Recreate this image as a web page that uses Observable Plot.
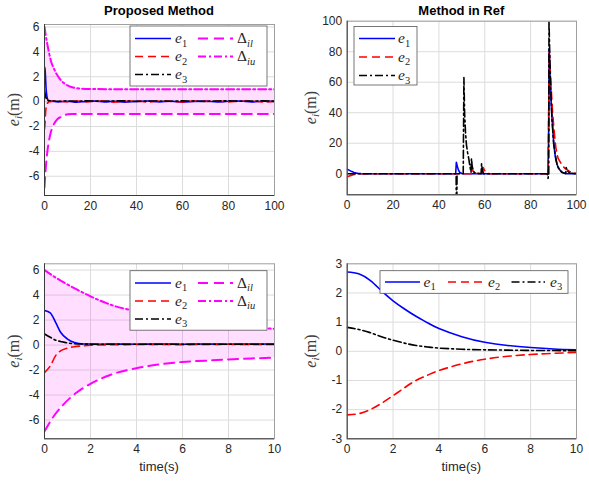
<!DOCTYPE html>
<html><head><meta charset="utf-8">
<script src="https://cdn.jsdelivr.net/npm/d3@7"></script>
<script src="https://cdn.jsdelivr.net/npm/@observablehq/plot@0.6"></script>
<style>
html,body{margin:0;padding:0;background:#fff;}
#root{position:relative;width:589px;height:482px;overflow:hidden;background:#fff;}
#root svg{position:absolute;}
</style></head><body><div id="root"></div>
<script>
// ---------- data ----------
// prescribed performance bounds (shared time grid)
const boundT  = [0,0.4,0.8,1.4,2,2.7,3,4,5,6,7,8,9,10,12,15,20,30,40,50,60,70,80,90,100];
const deltaIu = [6,5.5,5.05,4.45,3.9,3.35,3.15,2.7,2.3,2.0,1.75,1.55,1.42,1.3,1.15,1.06,1.02,1,1,1,1,1,1,1,1];
const deltaIl = [-6.9,-5.7,-4.8,-3.8,-3.1,-2.5,-2.3,-1.85,-1.55,-1.35,-1.25,-1.15,-1.07,-1.02,-1.0,-1,-1,-1,-1,-1,-1,-1,-1,-1,-1];

// proposed method, first 10 s
const blT  = [0,0.25,0.5,0.7,1,1.3,1.7,2,2.5,3,4,5,6,7,8,9,10];
const blE1 = [2.77,2.58,1.75,1.02,0.48,0.21,0.09,0.08,0.07,0.08,0.07,0.08,0.07,0.08,0.07,0.08,0.08];
const blE2 = [-2.2,-1.67,-0.8,-0.46,-0.24,-0.13,-0.06,-0.02,0.01,0.03,0.04,0.05,0.03,0.05,0.06,0.04,0.04];
const blE3 = [0.89,0.62,0.38,0.29,0.17,0.11,0.08,0.07,0.06,0.06,0.06,0.06,0.06,0.06,0.06,0.06,0.06];

// proposed method, long horizon (after 2 s)
const longT  = [3,6,10,14,18,22,26,30,35,40,45,50,55,60,65,70,75,80,85,90,95,100];
const longE1 = [0.05,-0.02,0.03,-0.05,0.02,0.04,-0.03,0.03,-0.04,0.02,0.05,-0.02,0.03,-0.04,0.02,0.04,-0.03,0.03,0.05,-0.02,0.03,0.02];
const longE2 = [0.02,0.04,-0.03,0.05,-0.02,0.03,0.05,-0.04,0.02,0.04,-0.03,0.05,0.02,-0.03,0.04,0.02,0.05,-0.02,0.03,0.04,-0.03,0.02];
const longE3 = [0.06,0.03,0.05,0.02,0.06,0.04,0.03,0.05,0.06,0.02,0.04,0.05,0.03,0.06,0.04,0.02,0.05,0.06,0.03,0.04,0.06,0.03];

// method in ref, 0-100 s
const refE1T = [0,1,2,3,4,5,6,8,47.3,47.6,48,48.5,49,50,51,87.5,87.8,88.1,88.5,89,89.5,90,90.5,91,92,93,94,95,96,100];
const refE1V = [3,2.2,1.4,0.8,0.4,0.15,0.05,0,0,7.5,5,2.5,1,0.2,0,0,20,82,62,45,33,22,14,9,4,2,0.8,0.3,0.1,0];
const refE2T = [0,1,2,3,4,5,6,54,54.3,55,56,59,59.3,60,61,62,87.5,87.8,88.1,88.6,89,89.5,90,90.5,91,91.5,92,93,94,95,96,97,98,100];
const refE2V = [-2,-1.4,-0.9,-0.5,-0.2,-0.05,0,0,3,1.5,0.3,0,4,2,0.3,0,0,30,80,65,55,42,32,24,17,13,10,7.5,5,3.5,2.5,1.5,0.8,0.2];
const refE3T = [0,47.5,47.6,47.8,47.9,50.6,50.9,51.2,51.6,52,52.5,53,53.5,54,54.2,54.5,55,55.5,58.4,58.6,59,59.5,87.3,87.6,87.9,88,88.4,88.8,89.3,90,90.8,91.5,92.5,93.5,95.3,95.5,96,97,100];
const refE3V = [0,0,-20,-20,0,0,63,40,27,19,14,10,5,1,10,5,2,0.5,0,6.5,2,0,0,-3,0,100,75,55,36,20,12,6,3,1,0,4,2,0.5,0];

// method in ref, first 10 s
const brT  = [0,0.5,1,1.5,2,2.5,3,3.5,4,5,6,7,8,9,10];
const brE1 = [2.72,2.66,2.43,2.07,1.73,1.45,1.2,0.98,0.78,0.5,0.31,0.2,0.13,0.08,0.05];
const brE2 = [-2.18,-2.14,-2.0,-1.78,-1.52,-1.25,-1.0,-0.82,-0.66,-0.43,-0.27,-0.17,-0.11,-0.07,-0.04];
const brE3 = [0.82,0.75,0.64,0.5,0.38,0.28,0.2,0.15,0.11,0.07,0.05,0.04,0.03,0.025,0.02];

// ticks and text
const ticks100 = [0,20,40,60,80,100];
const ticks10  = [0,2,4,6,8,10];
const ticksPM6 = [-6,-4,-2,0,2,4,6];
const ticksRef = [0,20,40,60,80,100];
const ticksPM3 = [-3,-2,-1,0,1,2,3];
const titles = ["Proposed Method", "Method in Ref"];
const xLabel = "time(s)";

// ---------- helpers ----------
const zip = (t, v) => t.map((d, i) => ({t: d, v: v[i]}));
const bounds = boundT.map((d, i) => ({t: d, lo: deltaIl[i], hi: deltaIu[i]}));
const early = (arr) => arr.slice(0, 8);
const tlT = early(blT).concat(longT);

const C = {
  e1: {stroke: "#0000ff", strokeWidth: 1.6},
  e2: {stroke: "#ff0000", strokeWidth: 1.6, strokeDasharray: "8,5"},
  e3: {stroke: "#000000", strokeWidth: 1.6, strokeDasharray: "8,3,2,3"},
  il: {stroke: "#ff00ff", strokeWidth: 2, strokeDasharray: "10,6"},
  iu: {stroke: "#ff00ff", strokeWidth: 2, strokeDasharray: "8,3,2,3"}
};

const root = document.getElementById("root");

function panel({left, top, width, height, m, xDomain, xTicks, yDomain, yTicks, marks}) {
  const svg = Plot.plot({
    width, height,
    marginTop: m[0], marginRight: m[1], marginBottom: m[2], marginLeft: m[3],
    style: {fontFamily: "'Liberation Sans', Arial, sans-serif", fontSize: "12px", color: "#262626", background: "transparent", overflow: "visible"},
    x: {domain: xDomain, ticks: xTicks, tickSize: 0, tickPadding: 6, label: null, tickFormat: d => String(d)},
    y: {domain: yDomain, ticks: yTicks, tickSize: 0, tickPadding: 5, label: null, tickFormat: d => String(d)},
    marks: [
      Plot.gridX(xTicks, {stroke: "#dcdcdc", strokeOpacity: 1}),
      Plot.gridY(yTicks, {stroke: "#dcdcdc", strokeOpacity: 1}),
      ...marks,
      Plot.frame({stroke: "#a0a0a0"}),
      Plot.ruleX([xDomain[0]], {stroke: "#3a3a3a"}),
      Plot.ruleY([yDomain[0]], {stroke: "#3a3a3a"})
    ]
  });
  svg.style.left = left + "px";
  svg.style.top = top + "px";
  root.appendChild(svg);
}

const lineOpts = (k, curve) => ({x: "t", y: "v", ...C[k], curve, clip: true});
const boundMarks = () => [
  Plot.areaY(bounds, {x: "t", y1: "lo", y2: "hi", fill: "#ff00ff", fillOpacity: 0.13, curve: "monotone-x", clip: true}),
  Plot.line(bounds, {x: "t", y: "lo", ...C.il, curve: "monotone-x", clip: true}),
  Plot.line(bounds, {x: "t", y: "hi", ...C.iu, curve: "monotone-x", clip: true})
];

// top-left
panel({left: 0, top: 0, width: 295, height: 215, m: [24, 21, 20, 44],
  xDomain: [0, 100], xTicks: ticks100, yDomain: [-7.55, 6.2], yTicks: ticksPM6,
  marks: [...boundMarks(),
    Plot.line(zip(tlT, early(blE1).concat(longE1)), lineOpts("e1", "monotone-x")),
    Plot.line(zip(tlT, early(blE2).concat(longE2)), lineOpts("e2", "monotone-x")),
    Plot.line(zip(tlT, early(blE3).concat(longE3)), lineOpts("e3", "monotone-x"))]});

// top-right
panel({left: 295, top: 0, width: 294, height: 215, m: [20.7, 13, 20.7, 51.7],
  xDomain: [0, 100], xTicks: ticks100, yDomain: [-13.8, 100], yTicks: ticksRef,
  marks: [
    Plot.line(zip(refE1T, refE1V), lineOpts("e1", "linear")),
    Plot.line(zip(refE2T, refE2V), lineOpts("e2", "linear")),
    Plot.line(zip(refE3T, refE3V), lineOpts("e3", "linear"))]});

// bottom-left
panel({left: 0, top: 240, width: 295, height: 225, m: [23.3, 21, 26.7, 44],
  xDomain: [0, 10], xTicks: ticks10, yDomain: [-7.5, 6.5], yTicks: ticksPM6,
  marks: [...boundMarks(),
    Plot.line(zip(blT, blE1), lineOpts("e1", "monotone-x")),
    Plot.line(zip(blT, blE2), lineOpts("e2", "monotone-x")),
    Plot.line(zip(blT, blE3), lineOpts("e3", "monotone-x"))]});

// bottom-right
panel({left: 295, top: 240, width: 294, height: 225, m: [23.3, 13, 26.7, 51.7],
  xDomain: [0, 10], xTicks: ticks10, yDomain: [-3, 3], yTicks: ticksPM3,
  marks: [
    Plot.line(zip(brT, brE1), lineOpts("e1", "natural")),
    Plot.line(zip(brT, brE2), lineOpts("e2", "natural")),
    Plot.line(zip(brT, brE3), lineOpts("e3", "natural"))]});

// ---------- overlay: titles, labels, legends ----------
const ov = d3.select(root).append("svg")
  .attr("width", 589).attr("height", 482)
  .style("left", "0px").style("top", "0px")
  .style("font-family", "'Liberation Sans', Arial, sans-serif");

ov.append("text").attr("x", 159).attr("y", 15).attr("text-anchor", "middle")
  .attr("font-weight", "bold").attr("font-size", 13).text(titles[0]);
ov.append("text").attr("x", 461.3).attr("y", 15).attr("text-anchor", "middle")
  .attr("font-weight", "bold").attr("font-size", 13).text(titles[1]);

[[159, 471], [461.3, 471]].forEach(([x, y]) =>
  ov.append("text").attr("x", x).attr("y", y).attr("text-anchor", "middle")
    .attr("font-size", 13).attr("fill", "#262626").text(xLabel));

const serif = "'Liberation Serif', 'DejaVu Serif', serif";
function yLabel(x, y) {
  const t = ov.append("text").attr("transform", `translate(${x},${y}) rotate(-90)`)
    .attr("text-anchor", "middle").attr("font-family", serif).attr("font-size", 16).attr("fill", "#404040");
  t.append("tspan").attr("font-style", "italic").text("e");
  t.append("tspan").attr("font-style", "italic").attr("font-size", 11).attr("dy", 3).text("i");
  t.append("tspan").attr("dy", -3).text("(m)");
}
yLabel(19, 109.5); yLabel(316, 107.5); yLabel(19, 351); yLabel(316, 351);

function label(g, x, y, main, sub, subItalic, mainItalic) {
  const t = g.append("text").attr("x", x).attr("y", y).attr("font-family", serif)
    .attr("font-size", 15.5).attr("fill", "#262626");
  t.append("tspan").attr("font-style", mainItalic ? "italic" : "normal").text(main);
  t.append("tspan").attr("font-size", 10.5).attr("dy", 3.5)
    .attr("font-style", subItalic ? "italic" : "normal").text(sub);
}
const legendText = {
  e1: ["e", "1", false, true], e2: ["e", "2", false, true], e3: ["e", "3", false, true],
  il: ["\u0394", "il", true, false], iu: ["\u0394", "iu", true, false]
};
function legend(box, items) {
  const g = ov.append("g");
  g.append("rect").attr("x", box[0]).attr("y", box[1]).attr("width", box[2]).attr("height", box[3])
    .attr("fill", "#fff").attr("stroke", "#555").attr("stroke-width", 0.8);
  items.forEach(([k, x1, x2, y, tx]) => {
    const c = C[k];
    g.append("line").attr("x1", x1).attr("x2", x2).attr("y1", y).attr("y2", y)
      .attr("stroke", c.stroke).attr("stroke-width", c.strokeWidth)
      .attr("stroke-dasharray", c.strokeDasharray || null);
    const L = legendText[k];
    label(g, tx, y + 4.5, L[0], L[1], L[2], L[3]);
  });
}
legend([130, 26, 137, 60], [
  ["e1", 135, 171, 38.5, 175], ["e2", 135, 171, 56.5, 175], ["e3", 135, 171, 74.5, 175],
  ["il", 198, 233, 38.5, 237], ["iu", 198, 233, 56.5, 237]]);
legend([354, 26.5, 63, 58.5], [
  ["e1", 359, 395, 38.5, 398], ["e2", 359, 395, 57, 398], ["e3", 359, 395, 75.5, 398]]);
legend([130, 270.7, 137, 59.5], [
  ["e1", 135, 171, 283, 175], ["e2", 135, 171, 301, 175], ["e3", 135, 171, 319, 175],
  ["il", 198, 233, 283, 237], ["iu", 198, 233, 301, 237]]);
legend([380, 270.7, 188, 22.6], [
  ["e1", 385, 420, 282, 423.5], ["e2", 448, 482, 282, 488], ["e3", 511.5, 545, 282, 550]]);
</script>
</body></html>
